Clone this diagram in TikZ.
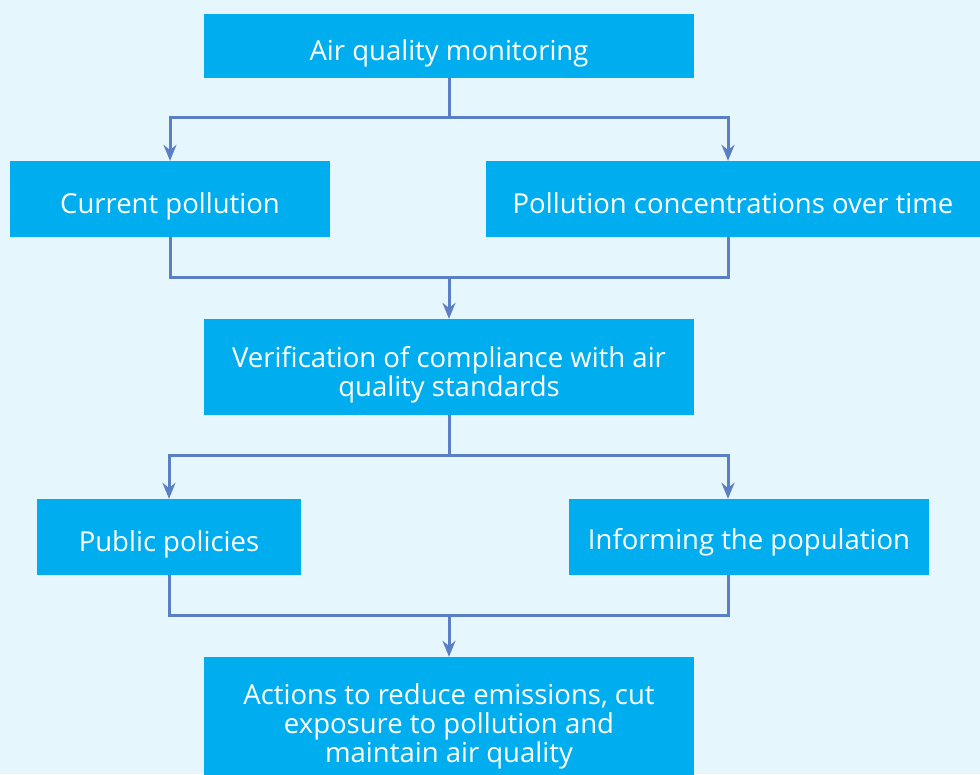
\documentclass[tikz,border=0pt]{standalone}
\usepackage{fontspec}
\setmainfont{Open Sans}
\usetikzlibrary{arrows.meta}
\definecolor{bgblue}{HTML}{E6F6FD}
\definecolor{boxblue}{HTML}{00AEEF}
\definecolor{linkblue}{HTML}{5B7FC4}

\begin{document}
\begin{tikzpicture}[x=1pt, y=-1pt,
  box/.style={fill=boxblue, text=white, align=center, inner sep=0pt,
    text height=29pt, text depth=0pt, font=\fontsize{27.5}{29}\selectfont},
  link/.style={draw=linkblue, line width=3pt},
  arr/.style={link, -{Stealth[length=16pt, width=13pt]}}]
%%% background %%%
\clip (0,0) rectangle (980,774);
\fill[bgblue] (0,0) rectangle (980,774);

%%% boxes %%%
\node[box, minimum width=490, minimum height=64] (monitor) at (449,46) {Air quality monitoring};
\node[box, minimum width=320, minimum height=76] (current) at (170,199) {Current pollution};
\node[box, minimum width=494, minimum height=76] (trend) at (733,199) {Pollution concentrations over time};
\node[box, minimum width=490, minimum height=96, text height=58pt] (verif) at (449,367)
  {Verification of compliance with air\\ quality standards};
\node[box, minimum width=264, minimum height=76] (policy) at (169,537) {Public policies};
\node[box, minimum width=360, minimum height=76, text height=24pt] (inform) at (749,537) {Informing the population};
\node[box, minimum width=490, minimum height=130, text height=80pt] (action) at (449,722)
  {Actions to reduce emissions, cut\\ exposure to pollution and\\ maintain air quality};

%%% connectors %%%
\coordinate (split1) at (449,117);
\coordinate (join1) at (449,277);
\coordinate (split2) at (449,455);
\coordinate (join2) at (449,615);

\draw[link] (monitor.south) -- (split1);
\draw[arr] (split1) -| (current.north);
\draw[arr] (split1) -| ([xshift=-5]trend.north);
%%
\draw[link] (current.south) |- (join1) -| ([xshift=-5]trend.south);
\draw[arr] (join1) -- (verif.north);
%%
\draw[link] (verif.south) -- (split2);
\draw[arr] (split2) -| (policy.north);
\draw[arr] (split2) -| ([xshift=-21]inform.north);
%%
\draw[link] (policy.south) |- (join2) -| ([xshift=-21]inform.south);
\draw[arr] (join2) -- (action.north);

\end{tikzpicture}
\end{document}
